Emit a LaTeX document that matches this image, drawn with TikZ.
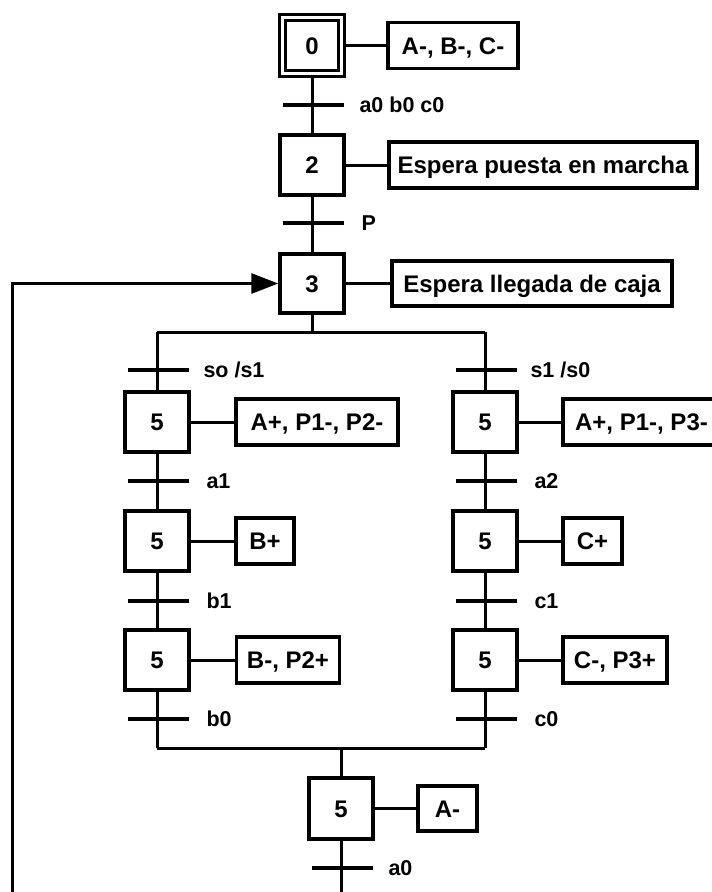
\documentclass[tikz,border=0pt]{standalone}
\usepackage{fontspec}
\setmainfont{Liberation Sans}
\usetikzlibrary{arrows.meta,calc}
\begin{document}
\begin{tikzpicture}[x=1pt,y=-1pt,line width=3pt,
  stepbox/.style={draw,line width=3.5pt,minimum width=64pt,minimum height=60pt,inner sep=0pt,text height=17pt,text depth=0pt,font=\fontsize{24}{26}\selectfont\bfseries},
  actbox/.style={draw,line width=3.5pt,minimum height=46pt,inner sep=0pt,text height=17pt,text depth=0pt,font=\fontsize{24}{26}\selectfont\bfseries},
  lbl/.style={anchor=west,inner sep=0pt,text height=15.5pt,text depth=0pt,font=\fontsize{21.5}{24}\selectfont\bfseries},
  bar/.style={line width=4pt}]
\useasboundingbox (0,0) rectangle (712,892);
% main column
\node[stepbox,minimum width=65pt,minimum height=62pt] (s0) at (312,45.5) {0};
\draw[line width=3pt] ($(s0.north west)+(8,8)$) rectangle ($(s0.south east)+(-8,-8)$);
\node[actbox,minimum width=130pt] (a0) at (453,45.5) {A-, B-, C-};
\node[stepbox] (s2) at (312,165) {2};
\node[actbox,minimum width=308pt] (a2) at (543,165) {Espera puesta en marcha};
\node[stepbox,minimum height=59pt] (s3) at (312,283.5) {3};
\node[actbox,minimum width=280pt,minimum height=45pt] (a3) at (532,283.5) {Espera llegada de caja};
% left branch
\node[stepbox] (l1) at (157,422) {5};
\node[actbox,minimum width=162pt] (la1) at (317,422) {A+, P1-, P2-};
\node[stepbox] (l2) at (157,541) {5};
\node[actbox,minimum width=58pt] (la2) at (265,541) {B+};
\node[stepbox] (l3) at (157,660) {5};
\node[actbox,minimum width=103pt] (la3) at (288,660) {B-, P2+};
% right branch
\node[stepbox] (r1) at (485,422) {5};
\node[actbox,minimum width=157pt] (ra1) at (641.5,422) {A+, P1-, P3-};
\node[stepbox] (r2) at (485,541) {5};
\node[actbox,minimum width=59pt] (ra2) at (592.5,541) {C+};
\node[stepbox] (r3) at (485,660) {5};
\node[actbox,minimum width=104pt] (ra3) at (615,660) {C-, P3+};
% bottom
\node[stepbox,minimum height=61pt] (b1) at (341,808.5) {5};
\node[actbox,minimum width=59pt,minimum height=45pt] (ba1) at (447.5,808.5) {A-};
% action links
\foreach \s/\a in {s0/a0,s2/a2,s3/a3,l1/la1,l2/la2,l3/la3,r1/ra1,r2/ra2,r3/ra3,b1/ba1}
  \draw (\s.east) -- (\a.west);
% coordinates
\coordinate (dL) at (157,332);
\coordinate (dR) at (485,332);
\coordinate (dM) at (312,332);
\coordinate (cL) at (157,748);
\coordinate (cR) at (485,748);
\coordinate (cM) at (341,748);
\coordinate (bend) at (341,900);
\coordinate (lb) at (12,900);
\coordinate (lt) at (12,283.5);
% vertical links
\draw (s0.south) -- (s2.north);
\draw (s2.south) -- (s3.north);
\draw (s3.south) -- (dM);
\draw (dL) -- (dR);
\draw (dL) -- (l1.north);
\draw (l1.south) -- (l2.north);
\draw (l2.south) -- (l3.north);
\draw (l3.south) -- (cL);
\draw (dR) -- (r1.north);
\draw (r1.south) -- (r2.north);
\draw (r2.south) -- (r3.north);
\draw (r3.south) -- (cR);
\draw (cL) -- (cR);
\draw (cM) -- (b1.north);
\draw (b1.south) -- (bend);
\draw[-{Triangle[length=27pt,width=20pt]}] (lb) -- (lt) -- (s3.west);
% transitions
\coordinate (t1) at (312,105);
\coordinate (tP) at (312,223);
\coordinate (tL0) at (157,370);
\coordinate (tL1) at (157,481);
\coordinate (tL2) at (157,601);
\coordinate (tL3) at (157,719);
\coordinate (tR0) at (485,370);
\coordinate (tR1) at (485,481);
\coordinate (tR2) at (485,601);
\coordinate (tR3) at (485,719);
\coordinate (tB) at (341,868);
\foreach \t in {t1,tP,tL0,tL1,tL2,tL3,tR0,tR1,tR2,tR3,tB}
  \draw[bar] ($(\t)+(-29,0)$) -- ($(\t)+(32,0)$);
\node[lbl] (n1) at ($(t1)+(46,0)$) {a0 b0 c0};
\node[lbl] (nP) at ($(tP)+(48,0)$) {P};
\node[lbl] (nL0) at ($(tL0)+(45,0)$) {so /s1};
\node[lbl] (nL1) at ($(tL1)+(48,0)$) {a1};
\node[lbl] (nL2) at ($(tL2)+(48,0)$) {b1};
\node[lbl] (nL3) at ($(tL3)+(48,0)$) {b0};
\node[lbl] (nR0) at ($(tR0)+(44,0)$) {s1 /s0};
\node[lbl] (nR1) at ($(tR1)+(48,0)$) {a2};
\node[lbl] (nR2) at ($(tR2)+(48,0)$) {c1};
\node[lbl] (nR3) at ($(tR3)+(48,0)$) {c0};
\node[lbl] (nB) at ($(tB)+(46,0)$) {a0};
\end{tikzpicture}
\end{document}
